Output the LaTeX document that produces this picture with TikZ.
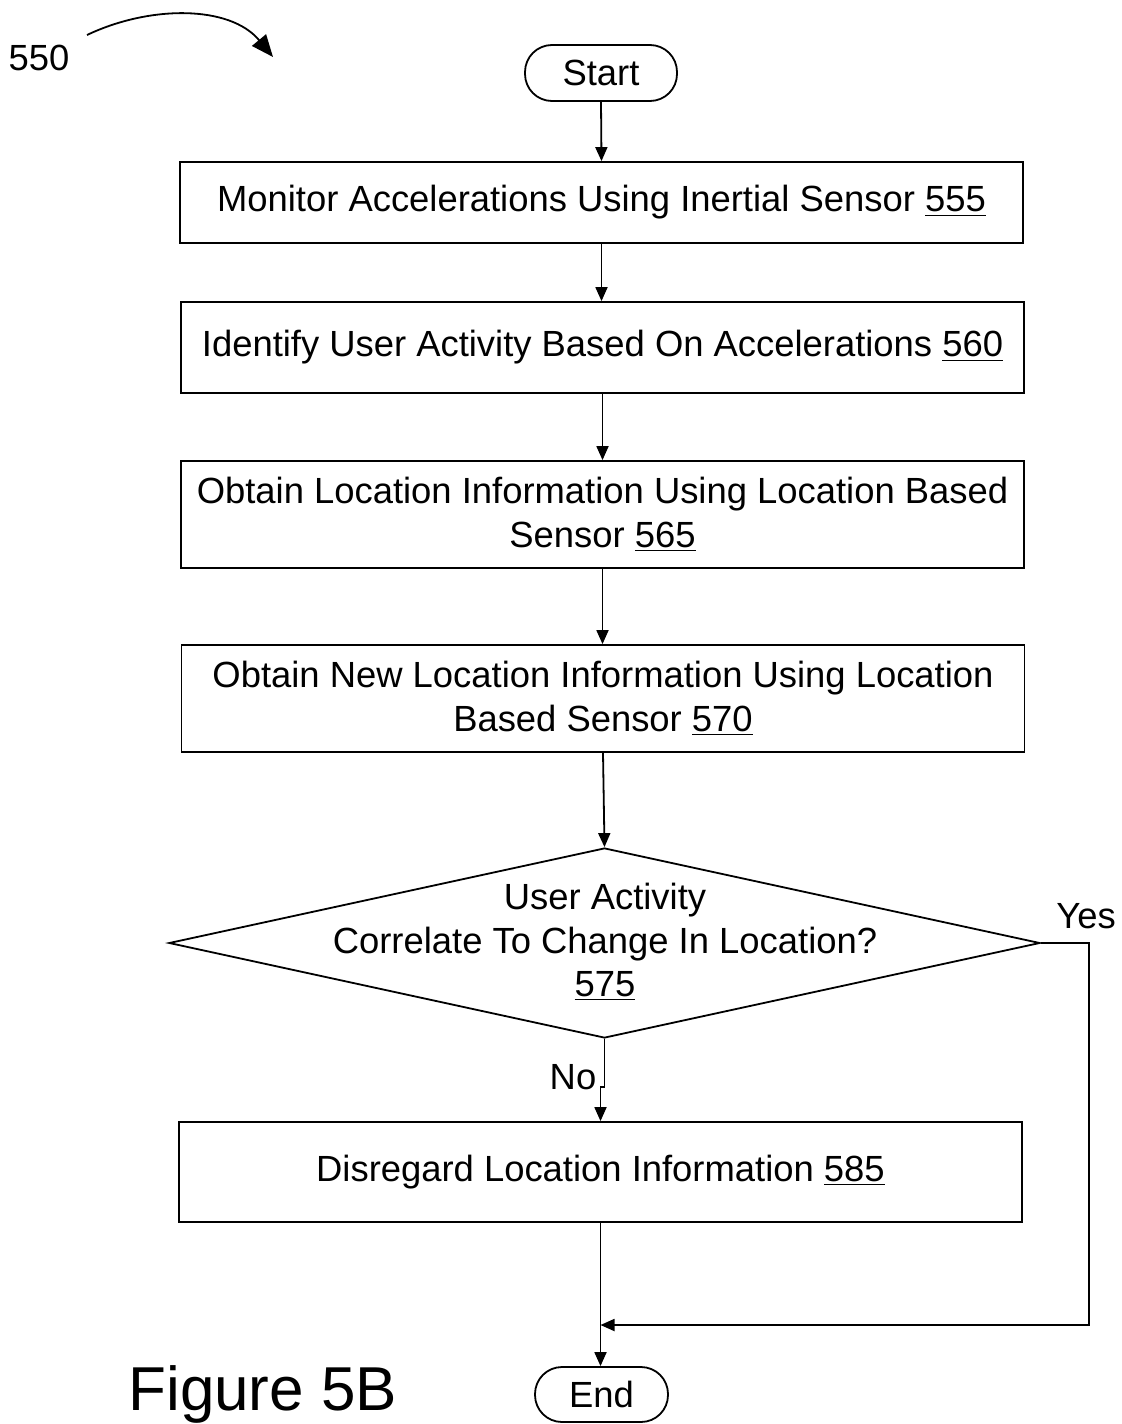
\documentclass[tikz,border=0pt]{standalone}
\usepackage{fontspec}
\setmainfont{Liberation Sans}
\usetikzlibrary{shapes.geometric,arrows.meta}
\begin{document}
\begin{tikzpicture}[x=0.5pt,y=-0.5pt,
  every node/.style={font=\fontsize{18.2}{21.7}\selectfont},
  box/.style={draw,line width=0.9pt,rectangle,minimum width=421.5pt,inner sep=0pt,align=center},
  term/.style={draw,line width=0.9pt,rounded corners=13.5pt,inner sep=0pt},
  decision/.style={draw,line width=0.9pt,diamond,minimum width=435.5pt,minimum height=95pt,inner sep=0pt},
  arr/.style={line width=0.9pt,-{Triangle[length=7pt,width=6pt]}},
  ln/.style={line width=0.9pt}]
\useasboundingbox (0,0) rectangle (1122,1424);

\node (lbl) at (39,58) {550};
\coordinate (cs) at (87,35);
\coordinate (ce) at (273,57);
\draw[line width=0.9pt,-{Triangle[length=11pt,width=9pt]}] (cs) .. controls (150,5) and (230,5) .. (ce);

\node[term,minimum width=76pt,minimum height=28pt] (start) at (601,73) {Start};
\node[box,minimum height=40.5pt] (b555) at (601.5,202.5) {Monitor Accelerations Using Inertial Sensor \underline{555}};
\node[box,minimum height=45.5pt] (b560) at (602.5,347.5) {Identify User Activity Based On Accelerations \underline{560}};
\node[box,minimum height=53.5pt] (b565) at (602.5,514.5) {Obtain Location Information Using Location Based\\Sensor \underline{565}};
\node[box,minimum height=53.5pt] (b570) at (603,698.5) {Obtain New Location Information Using Location\\Based Sensor \underline{570}};
\node[decision] (d) at (604.5,943) {};
\node[align=center,inner sep=0pt] (dtext) at (605,942) {User Activity\\Correlate To Change In Location?\\\underline{575}};
\node[box,minimum height=50pt] (b585) at (600.5,1172) {Disregard Location Information \underline{585}};
\node[term,minimum width=66.5pt,minimum height=27.5pt] (end) at (601.5,1394.5) {End};

\node (yes) at (1086,916) {Yes};
\node (no) at (573,1077) {No};
\node[anchor=base west,inner sep=0pt,font=\fontsize{31}{36}\selectfont] (fig) at (128,1410) {Figure 5B};

\draw[arr] (start.south) -- (b555.north);
\draw[arr] (b555.south) -- (b560.north -| b555.south);
\draw[arr] (b560.south) -- (b565.north -| b560.south);
\draw[arr] (b565.south) -- (b570.north -| b565.south);
\draw[arr] (b570.south) -- (d.north);
\coordinate (nojog) at (0,1087);
\draw[arr] (d.south) -- (d.south |- nojog) -- (b585.north |- nojog) -- (b585.north);
\coordinate (yesc) at (1089,1325);
\draw[arr] (d.east) -| (yesc) -- (b585.south |- yesc);
\draw[arr] (b585.south) -- (end.north -| b585.south);
\end{tikzpicture}
\end{document}
